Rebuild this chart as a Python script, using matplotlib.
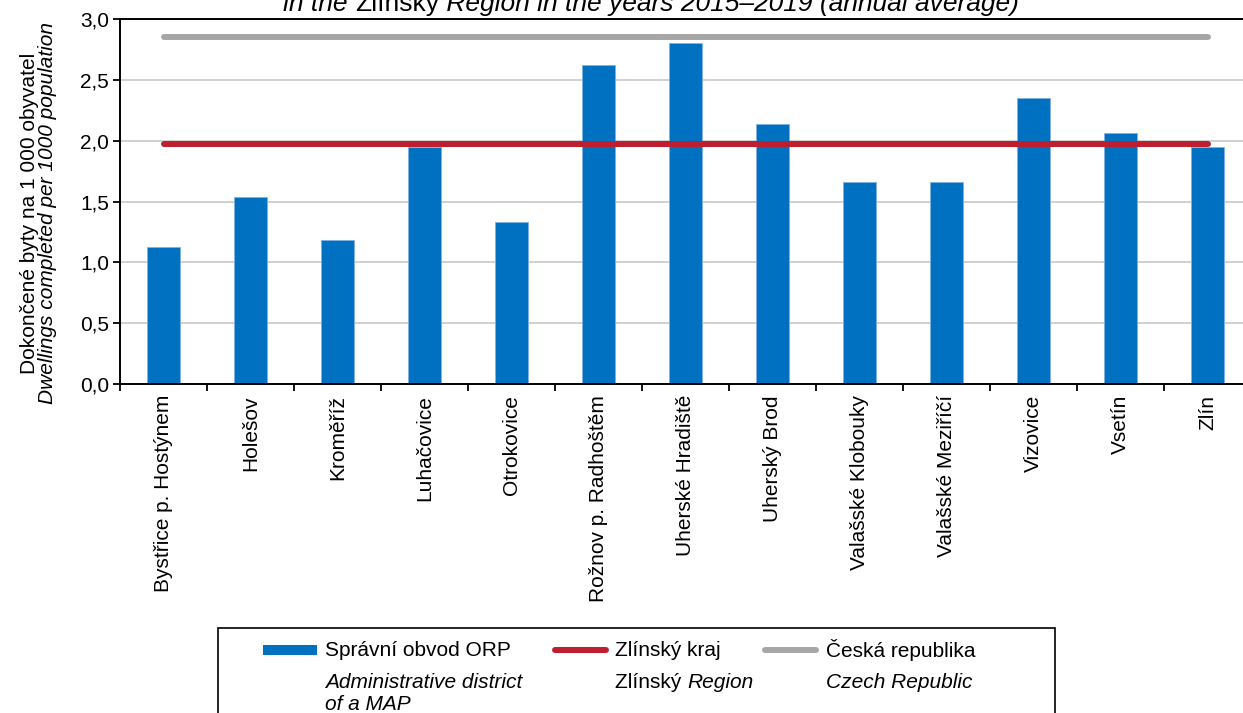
import numpy as np
import matplotlib

matplotlib.use("Agg")
import matplotlib.pyplot as plt
from matplotlib.patches import Rectangle
from matplotlib.lines import Line2D

plt.rcParams["font.family"] = ["Liberation Sans", "DejaVu Sans"]

# data
categories = [
    "Bystřice p. Hostýnem", "Holešov", "Kroměříž", "Luhačovice", "Otrokovice",
    "Rožnov p. Radhoštěm", "Uherské Hradiště", "Uherský Brod", "Valašské Klobouky",
    "Valašské Meziříčí", "Vizovice", "Vsetín", "Zlín",
]
orp_values = [1.13, 1.54, 1.18, 1.95, 1.33, 2.62, 2.80, 2.14, 1.66, 1.66, 2.35, 2.06, 1.95]
region_avg = 1.97
cz_avg = 2.85
y_ticks = [0.0, 0.5, 1.0, 1.5, 2.0, 2.5, 3.0]

BLUE = "#0070C0"
RED = "#BE1E2D"
GREY = "#A6A6A6"
FS = 15

W, H = 1243, 713
fig = plt.figure(figsize=(W / 100, H / 100), dpi=100)


def fx(px):
    return px / W


def fy(py):
    return 1 - py / H


ax = fig.add_axes([fx(120), fy(384), fx(1251) - fx(120), fy(19) - fy(384)])

x = np.arange(len(categories))
ax.bar(x, orp_values, width=0.39, color=BLUE, edgecolor="#7FB2E0", linewidth=0.6, zorder=2)
ax.plot(x, np.full(len(x), cz_avg), color=GREY, lw=4.3, solid_capstyle="round", zorder=3)
ax.plot(x, np.full(len(x), region_avg), color=RED, lw=4.3, solid_capstyle="round", zorder=3)

ax.set_xlim(-0.5, len(categories) - 0.5)
ax.set_ylim(0, 3.0)
ax.set_yticks(y_ticks)
ax.set_yticklabels([f"{v:.1f}".replace(".", ",") for v in y_ticks], fontsize=FS)
ax.set_xticks(x)
ax.set_xticklabels(categories, rotation=90, fontsize=FS, va="top", ha="center")
ax.set_xticks(np.arange(-0.5, len(categories), 1.0), minor=True)
ax.tick_params(axis="x", which="major", length=0, pad=8)
ax.tick_params(axis="x", which="minor", length=5, width=1.3, direction="out")
ax.tick_params(axis="y", length=5, width=1.3, direction="out", pad=3)

ax.grid(axis="y", color="#D0D0D0", lw=1.4, zorder=0)
ax.set_axisbelow(True)
for side in ("left", "bottom", "top"):
    ax.spines[side].set_linewidth(1.4)
    ax.spines[side].set_color("black")
ax.spines["right"].set_visible(False)

# y label (two lines, second italic)
fig.text(fx(30), fy(213), "Dokončené byty na 1 000 obyvatel", rotation=90,
         ha="center", va="center", fontsize=FS)
fig.text(fx(48), fy(213), "Dwellings completed per 1000 population", rotation=90,
         ha="center", va="center", fontsize=FS, style="italic")

# title (cut at the top of the image)
fig.canvas.draw()
renderer = fig.canvas.get_renderer()
title_parts = [
    ("in the ", "italic"),
    ("Zlínský", "normal"),
    (" Region in the years 2015–2019 (annual average)", "italic"),
]
cur = 283
for txt, st in title_parts:
    t = fig.text(fx(cur), fy(11), txt, fontsize=19, style=st, ha="left", va="baseline")
    cur += t.get_window_extent(renderer).width

# legend box
fig.patches.append(Rectangle((fx(218), fy(760)), fx(1055) - fx(218), fy(628) - fy(760),
                             transform=fig.transFigure, fill=False, edgecolor="black", lw=1.2))
fig.patches.append(Rectangle((fx(263), fy(655)), fx(317) - fx(263), fy(645) - fy(655),
                             transform=fig.transFigure, facecolor=BLUE, edgecolor="none"))
fig.lines.append(Line2D([fx(555), fx(606)], [fy(650), fy(650)], transform=fig.transFigure,
                        color=RED, lw=4.3, solid_capstyle="round"))
fig.lines.append(Line2D([fx(765), fx(816)], [fy(650), fy(650)], transform=fig.transFigure,
                        color=GREY, lw=4.3, solid_capstyle="round"))

fig.text(fx(325), fy(650), "Správní obvod ORP", fontsize=FS, va="center")
fig.text(fx(615), fy(650), "Zlínský kraj", fontsize=FS, va="center")
fig.text(fx(826), fy(650), "Česká republika", fontsize=FS, va="center")
fig.text(fx(325), fy(682), "Administrative district", fontsize=FS, va="center", style="italic")
fig.text(fx(325), fy(705), "of a MAP", fontsize=FS, va="center", style="italic")
t = fig.text(fx(615), fy(682), "Zlínský ", fontsize=FS, va="center")
wz = t.get_window_extent(renderer).width
fig.text(fx(615 + wz), fy(682), "Region", fontsize=FS, va="center", style="italic")
fig.text(fx(826), fy(682), "Czech Republic", fontsize=FS, va="center", style="italic")

fig.savefig("out.png", dpi=100)
